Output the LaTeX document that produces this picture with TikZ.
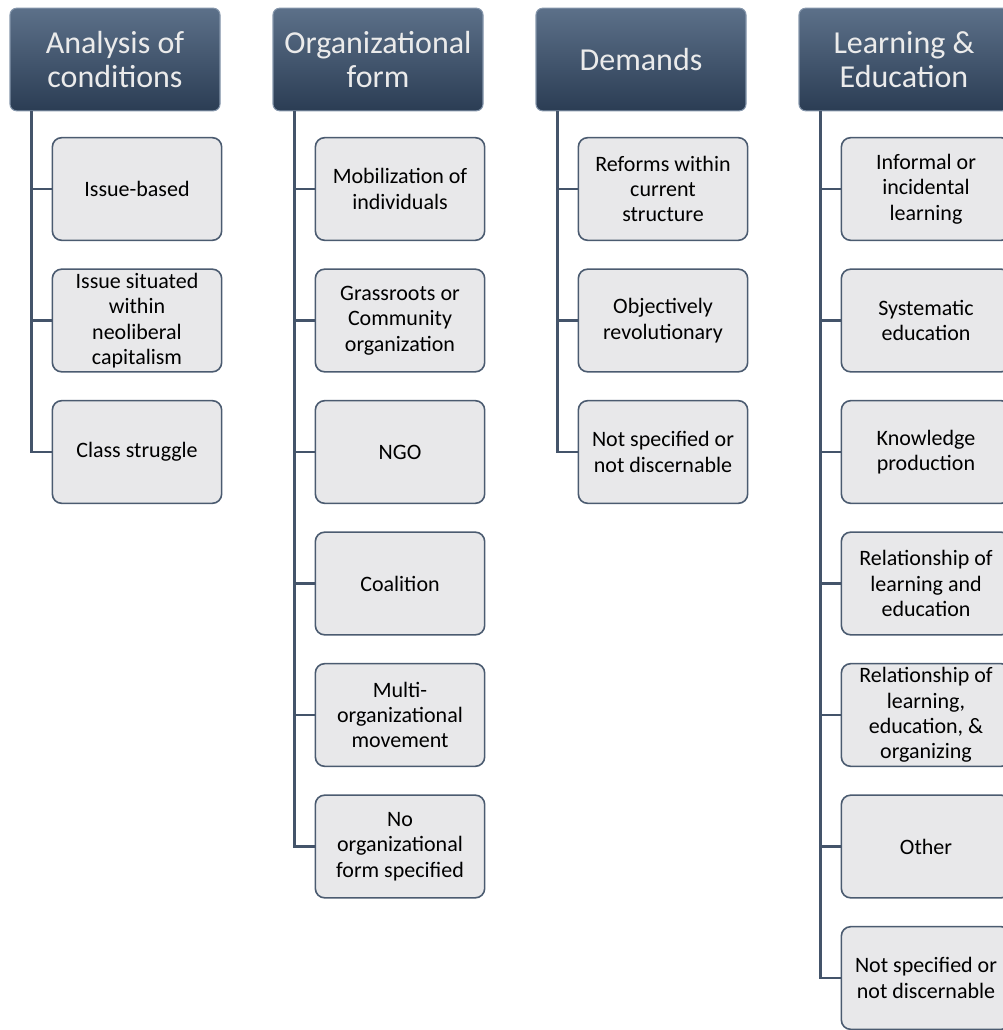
\documentclass[tikz,border=0pt]{standalone}
\usepackage{fontspec}
\setmainfont{Carlito}

\definecolor{hdrtop}{HTML}{5C7089}
\definecolor{hdrbot}{HTML}{2B3D54}
\definecolor{hdredge}{HTML}{8596AB}
\definecolor{itemfill}{HTML}{E8E8EA}
\definecolor{itemedge}{HTML}{4B5B70}
\definecolor{linkcol}{HTML}{44546A}

\tikzset{
  hdr/.style={rounded corners=5pt, top color=hdrtop, bottom color=hdrbot,
    draw=hdredge, line width=0.8pt, text=white!92!black,
    minimum width=157.5pt, minimum height=77pt, align=center, inner sep=2pt,
    font=\fontsize{24}{26}\selectfont},
  item/.style={rounded corners=7pt, fill=itemfill, draw=itemedge,
    line width=1.2pt, minimum width=127pt, minimum height=77pt,
    align=center, inner sep=2pt, font=\fontsize{16.5}{19}\selectfont},
  link/.style={draw=linkcol, line width=1.7pt}
}

\begin{document}
\begin{tikzpicture}[x=0.75pt, y=-0.75pt]
  \useasboundingbox (0,0) rectangle (1002,1030);

  % --- analysis of conditions ---
  \node[hdr] (h1) at (115, 59.5) {Analysis of\\conditions};
  \node[item] (a1) at (137, 189)   {Issue-based};
  \node[item] (a2) at (137, 320.5) {Issue situated\\within\\neoliberal\\capitalism};
  \node[item] (a3) at (137, 452)   {Class struggle};
  \draw[link] ([xshift=16.5pt]h1.south west) |- (a1.west);
  \draw[link] ([xshift=16.5pt]h1.south west) |- (a2.west);
  \draw[link] ([xshift=16.5pt]h1.south west) |- (a3.west);

  % --- organizational form ---
  \node[hdr] (h2) at (378, 59.5) {Organizational\\form};
  \node[item] (o1) at (400, 189)   {Mobilization of\\individuals};
  \node[item] (o2) at (400, 320.5) {Grassroots or\\Community\\organization};
  \node[item] (o3) at (400, 452)   {NGO};
  \node[item] (o4) at (400, 583.5) {Coalition};
  \node[item] (o5) at (400, 715)   {Multi-\\organizational\\movement};
  \node[item] (o6) at (400, 846.5) {No\\organizational\\form specified};
  \draw[link] ([xshift=16.5pt]h2.south west) |- (o1.west);
  \draw[link] ([xshift=16.5pt]h2.south west) |- (o2.west);
  \draw[link] ([xshift=16.5pt]h2.south west) |- (o3.west);
  \draw[link] ([xshift=16.5pt]h2.south west) |- (o4.west);
  \draw[link] ([xshift=16.5pt]h2.south west) |- (o5.west);
  \draw[link] ([xshift=16.5pt]h2.south west) |- (o6.west);

  % --- demands ---
  \node[hdr] (h3) at (641, 59.5) {Demands};
  \node[item] (d1) at (663, 189)   {Reforms within\\current\\structure};
  \node[item] (d2) at (663, 320.5) {Objectively\\revolutionary};
  \node[item] (d3) at (663, 452)   {Not specified or\\not discernable};
  \draw[link] ([xshift=16.5pt]h3.south west) |- (d1.west);
  \draw[link] ([xshift=16.5pt]h3.south west) |- (d2.west);
  \draw[link] ([xshift=16.5pt]h3.south west) |- (d3.west);

  % --- learning & education (right edge cut off) ---
  \node[hdr] (h4) at (904, 59.5) {Learning \&\\Education};
  \node[item] (l1) at (926, 189)   {Informal or\\incidental\\learning};
  \node[item] (l2) at (926, 320.5) {Systematic\\education};
  \node[item] (l3) at (926, 452)   {Knowledge\\production};
  \node[item] (l4) at (926, 583.5) {Relationship of\\learning and\\education};
  \node[item] (l5) at (926, 715)   {Relationship of\\learning,\\education, \&\\organizing};
  \node[item] (l6) at (926, 846.5) {Other};
  \node[item] (l7) at (926, 978)   {Not specified or\\not discernable};
  \draw[link] ([xshift=16.5pt]h4.south west) |- (l1.west);
  \draw[link] ([xshift=16.5pt]h4.south west) |- (l2.west);
  \draw[link] ([xshift=16.5pt]h4.south west) |- (l3.west);
  \draw[link] ([xshift=16.5pt]h4.south west) |- (l4.west);
  \draw[link] ([xshift=16.5pt]h4.south west) |- (l5.west);
  \draw[link] ([xshift=16.5pt]h4.south west) |- (l6.west);
  \draw[link] ([xshift=16.5pt]h4.south west) |- (l7.west);

\end{tikzpicture}
\end{document}
